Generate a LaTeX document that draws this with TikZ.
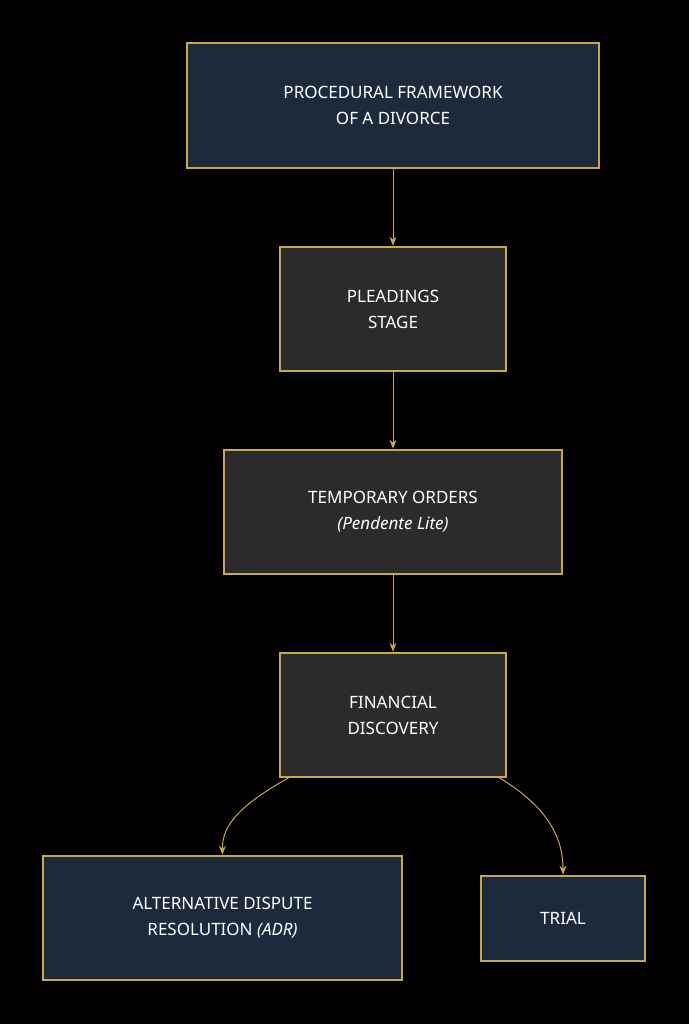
\documentclass[tikz,border=0pt]{standalone}
\usepackage{fontspec}
\setmainfont{Noto Sans}
\usetikzlibrary{arrows.meta}
\definecolor{gold}{HTML}{C8A84B}
\definecolor{navy}{HTML}{1C2A3C}
\definecolor{dgray}{HTML}{2B2B2B}
\tikzset{
 box/.style={draw=gold,line width=2.5pt,text=white,font=\bfseries\fontsize{17}{26}\selectfont,align=center,inner sep=0pt},
 nb/.style={box,fill=navy}, gb/.style={box,fill=dgray},
 arr/.style={draw=gold,line width=1pt,-{Stealth[length=9pt,width=7pt]}}
}
\begin{document}
\begin{tikzpicture}[x=1pt,y=-1pt]
\useasboundingbox[fill=black] (0,0) rectangle (689,1024);
\node[nb,minimum width=412pt,minimum height=125pt] (a) at (393,105.5) {PROCEDURAL FRAMEWORK\\OF A DIVORCE};
\node[gb,minimum width=226pt,minimum height=124pt] (b) at (393,309) {PLEADINGS\\STAGE};
\node[gb,minimum width=338pt,minimum height=124pt] (c) at (393,512) {TEMPORARY ORDERS\\\textit{(Pendente Lite)}};
\node[gb,minimum width=226pt,minimum height=124pt] (d) at (393,715) {FINANCIAL\\DISCOVERY};
\node[nb,minimum width=359pt,minimum height=124pt] (e) at (222.5,918) {ALTERNATIVE DISPUTE\\RESOLUTION \textit{(ADR)}};
\node[nb,minimum width=164pt,minimum height=85pt] (f) at (563,918.5) {TRIAL};
\draw[arr] (a) -- (b);
\draw[arr] (b) -- (c);
\draw[arr] (c) -- (d);
\coordinate (d1) at (290,777);
\coordinate (d2) at (498,777);
\draw[arr] (d1) .. controls (240,805) and (222,825) .. (e.north);
\draw[arr] (d2) .. controls (545,805) and (563,835) .. (f.north);
\end{tikzpicture}
\end{document}
